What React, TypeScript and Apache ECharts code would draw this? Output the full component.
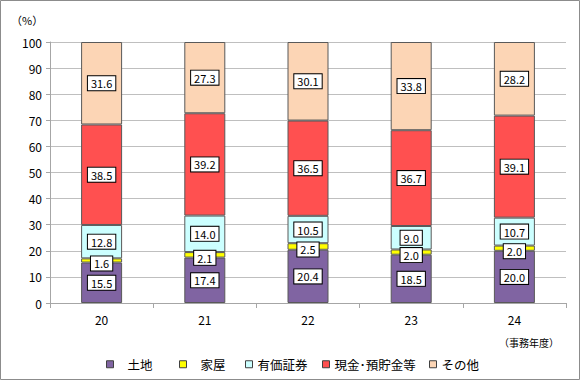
import React, { useEffect, useRef } from "react";
import * as echarts from "echarts";

const categories = ["20", "21", "22", "23", "24"];
const seriesNames = ["土地", "家屋", "有価証券", "現金･預貯金等", "その他"];
const land = [15.5, 17.4, 20.4, 18.5, 20.0];
const house = [1.6, 2.1, 2.5, 2.0, 2.0];
const securities = [12.8, 14.0, 10.5, 9.0, 10.7];
const cash = [38.5, 39.2, 36.5, 36.7, 39.1];
const other = [31.6, 27.3, 30.1, 33.8, 28.2];
const yTicks = [0, 10, 20, 30, 40, 50, 60, 70, 80, 90, 100];

const colors = ["#8064A2", "#FFFF00", "#CCFFFF", "#FF5050", "#FCD5B5"];
const FONT = "'Noto Sans CJK JP', 'Noto Sans', sans-serif";

export default function App() {
  const ref = useRef<HTMLDivElement>(null);
  useEffect(() => {
    document.body.style.margin = "0";
    const chart = echarts.init(ref.current!, null, { renderer: "svg" });
    const values = [land, house, securities, cash, other];
    const series = values.map((d, i) => ({
      name: seriesNames[i],
      type: "bar",
      stack: "total",
      barWidth: 41,
      data: d,
      itemStyle: { color: colors[i], borderColor: "#595959", borderWidth: 1 },
      label: {
        show: true,
        position: "inside",
        formatter: (p: any) => p.value.toFixed(1),
        color: "#000",
        fontSize: 11,
        fontFamily: FONT,
        backgroundColor: "#fff",
        borderColor: "#000",
        borderWidth: 1,
        padding: [2, 3, 1, 3],
        offset: i === 1 ? [0, 3] : [0, 0],
      },
    }));
    const legendLefts = [101, 174, 240, 317, 424];
    const legendPads = [9, 9, 0, 0, 0];
    const legends = seriesNames.map((n, i) => ({
      data: [n],
      left: legendLefts[i],
      top: 353,
      itemWidth: 7,
      itemHeight: 7,
      icon: "rect",
      itemStyle: { borderColor: "#404040", borderWidth: 1 },
      textStyle: {
        fontSize: 12.5,
        fontFamily: FONT,
        color: "#000",
        padding: [0, 0, 0, legendPads[i]],
      },
      selectedMode: false,
    }));
    chart.setOption({
      animation: false,
      grid: { left: 50, right: 14, top: 42, bottom: 77 },
      legend: legends,
      xAxis: {
        type: "category",
        data: categories,
        axisLine: { lineStyle: { color: "#a6a6a6" } },
        axisTick: { show: true, length: 5, lineStyle: { color: "#a6a6a6" } },
        axisLabel: { color: "#000", fontSize: 12, fontFamily: FONT, margin: 10 },
      },
      yAxis: {
        type: "value",
        min: yTicks[0],
        max: yTicks[yTicks.length - 1],
        interval: 10,
        axisLine: { show: true, lineStyle: { color: "#a6a6a6" } },
        axisTick: { show: true, length: 4, lineStyle: { color: "#a6a6a6" } },
        splitLine: { lineStyle: { color: "#bfbfbf" } },
        axisLabel: { color: "#000", fontSize: 12, fontFamily: FONT, margin: 8 },
      },
      series,
      graphic: [
        {
          type: "rect",
          shape: { x: 0.5, y: 0.5, width: 579, height: 379 },
          style: { fill: "none", stroke: "#8c8c8c", lineWidth: 1 },
          silent: true,
        },
        {
          type: "text",
          left: 11,
          top: 14,
          style: { text: "（%）", fontSize: 11, fontFamily: FONT, fill: "#000" },
        },
        {
          type: "text",
          left: 499,
          top: 337,
          style: { text: "（事務年度）", fontSize: 10, fontFamily: FONT, fill: "#000" },
        },
      ],
    });
    return () => chart.dispose();
  }, []);
  return <div ref={ref} style={{ width: 580, height: 380 }} />;
}
